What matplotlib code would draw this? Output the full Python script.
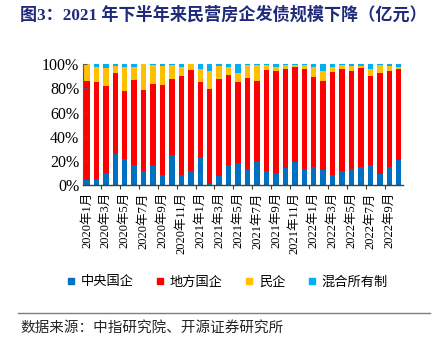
import matplotlib
matplotlib.use("Agg")
import matplotlib.pyplot as plt
from matplotlib.lines import Line2D
import numpy as np

plt.rcParams['font.family'] = ['Liberation Serif', 'Noto Sans CJK SC', 'DejaVu Sans']

months = []
for y in (2020, 2021, 2022):
    for m in range(1, 13):
        if y == 2022 and m > 10:
            break
        months.append(f"{y}年{m}月")

# cumulative tops (%)
central_top = [4.4, 5.2, 10.2, 26.1, 21.7, 17.0, 11.5, 16.8, 8.8, 25.3,
               8.2, 11.8, 23.4, 1.4, 7.4, 16.5, 18.1, 13.5, 20.3, 11.5,
               9.9, 14.0, 19.2, 13.2, 15.4, 12.4, 8.8, 11.5, 13.2, 15.4,
               16.5, 9.3, 14.8, 21.2]
local_top = [85.7, 85.2, 81.9, 92.9, 77.5, 86.8, 78.8, 83.5, 82.7, 87.4,
             90.4, 95.3, 85.4, 79.7, 87.9, 90.7, 85.2, 88.5, 85.7, 95.3,
             94.0, 95.6, 97.3, 95.6, 89.6, 86.3, 93.4, 96.2, 94.5, 97.0,
             90.4, 92.6, 94.5, 96.2]
private_top = [100.0, 97.5, 96.7, 98.4, 97.5, 97.5, 100.0, 98.9, 98.1, 99.5,
               97.3, 100.0, 95.6, 94.5, 98.4, 97.8, 92.9, 98.9, 98.9, 98.9,
               97.8, 98.9, 98.9, 98.9, 97.3, 94.0, 97.3, 99.5, 98.4, 98.4,
               95.6, 98.9, 98.4, 97.3]

central = np.array(central_top)
local = np.array(local_top) - central
private = np.array(private_top) - np.array(local_top)
mixed = 100.0 - np.array(private_top)

series_names = ['中央国企', '地方国企', '民企', '混合所有制']
colors = ['#0070C0', '#FF0000', '#FFC000', '#00B0F0']

W, H = 436, 347
fig = plt.figure(figsize=(W/100, H/100), dpi=100)
ax = fig.add_axes([83.3/W, 1-185.3/H, (403-83.3)/W, (185.3-64)/H])

x = np.arange(len(months))
bottom = np.zeros(len(months))
for vals, c in zip([central, local, private, mixed], colors):
    ax.bar(x, vals, bottom=bottom, width=0.58, color=c, linewidth=0)
    bottom += vals

ax.set_xlim(-0.38, len(months) - 0.55)
ax.set_ylim(0, 100)
ax.set_yticks([0, 20, 40, 60, 80, 100])
ax.set_yticklabels([f"{v}%" for v in [0, 20, 40, 60, 80, 100]],
                   fontsize=11.5, family=['Liberation Serif'])
ax.tick_params(axis='y', direction='in', length=3, width=0.8, color='#595959', pad=3)

ax.set_xticks(x[::2])
ax.set_xticklabels(months[::2], rotation=90, fontsize=9,
                   family=['Liberation Serif', 'Noto Sans CJK SC'])
ax.set_xticks(np.arange(1.5, len(months) - 0.5, 2), minor=True)
ax.tick_params(axis='x', which='major', length=0, pad=5)
ax.tick_params(axis='x', which='minor', direction='out', length=3, width=0.8, color='#404040')

for s in ['top', 'right']:
    ax.spines[s].set_visible(False)
ax.spines['left'].set_color('#595959')
ax.spines['bottom'].set_color('#404040')
ax.spines['left'].set_linewidth(0.8)
ax.spines['bottom'].set_linewidth(1.0)

fig.text(20/W, 1-15/H, "图3：2021 年下半年来民营房企发债规模下降（亿元）",
         fontsize=12.3, fontweight='bold', color='#1F2A7A', va='center', ha='left',
         family=['Liberation Serif', 'Noto Sans CJK SC'])

handles = [Line2D([], [], marker='s', linestyle='none', markersize=5,
                  markerfacecolor=c, markeredgecolor=c) for c in colors]
fig.legend(handles, series_names, loc='center', bbox_to_anchor=(226/W, 1-282/H),
           ncol=4, frameon=False, handletextpad=0.25, columnspacing=1.5,
           handlelength=1.0, prop={'family': 'Noto Sans CJK SC', 'size': 9.5})

fig.add_artist(Line2D([18/W, 430/W], [1-313/H, 1-313/H], color='#7F7F7F', linewidth=1.0))
fig.text(20/W, 1-328/H, "数据来源：中指研究院、开源证券研究所", fontsize=10.5,
         family=['Noto Sans CJK SC'], va='center', ha='left', color='#262626')

fig.savefig("out.png", dpi=100)
